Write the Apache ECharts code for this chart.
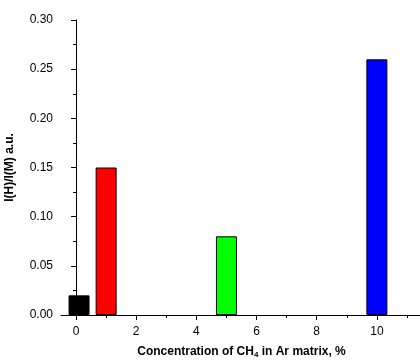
<!DOCTYPE html>
<html lang="en">
<head>
    <meta charset="UTF-8">
    <title>I(H)/I(M) vs CH4 concentration</title>
    <style>
        html, body { margin: 0; padding: 0; background: #fff; }
        #main { width: 420px; height: 360px; }
    </style>
    <script src="https://cdn.jsdelivr.net/npm/echarts@6/dist/echarts.min.js"></script>
</head>
<body>
<div id="main"></div>
<script>
    // concentration of CH4, % (black bar sits slightly right of 0)
    var concentrations = [0.1, 1, 5, 10];
    var ratios = [0.02, 0.15, 0.08, 0.26];
    var barColors = ['#000000', '#ff0000', '#00ff00', '#0000ff'];
    var xMajorTicks = [0, 2, 4, 6, 8, 10];
    var xMinorTicks = [1, 3, 5, 7, 9, 11];

    var font = 'Liberation Sans, Arial, sans-serif';
    var ink = '#000';

    var myChart = echarts.init(document.getElementById('main'));

    var barData = concentrations.map(function (c, i) {
        return {
            value: [c, ratios[i]],
            itemStyle: { color: barColors[i] }
        };
    });

    var option = {
        animation: false,
        grid: { left: 61, top: 20, width: 361, height: 295, outerBoundsMode: 'none' },
        xAxis: [
            {
                type: 'value',
                min: -0.5,
                max: 11.5,
                name: 'Concentration of CH{sub|4} in Ar matrix, %',
                nameLocation: 'middle',
                nameGap: 30,
                nameTextStyle: {
                    fontFamily: font, fontSize: 12, fontWeight: 'bold', color: ink,
                    rich: { sub: { fontFamily: font, fontSize: 8, fontWeight: 'bold', color: ink, verticalAlign: 'bottom', padding: [6, 0, 0, 0] } }
                },
                axisLine: { lineStyle: { color: ink, width: 1 } },
                axisTick: { customValues: xMajorTicks, length: 5, lineStyle: { color: ink } },
                axisLabel: {
                    customValues: xMajorTicks,
                    fontFamily: font, fontSize: 12, color: ink, margin: 11
                },
                splitLine: { show: false }
            },
            {
                type: 'value',
                min: -0.5,
                max: 11.5,
                position: 'bottom',
                axisLine: { show: false },
                axisTick: { customValues: xMinorTicks, length: 3, lineStyle: { color: ink } },
                axisLabel: { show: false },
                splitLine: { show: false }
            }
        ],
        yAxis: {
            type: 'value',
            min: 0,
            max: 0.3,
            interval: 0.05,
            name: 'I(H)/I(M) a.u.',
            nameLocation: 'middle',
            nameGap: 45,
            nameTextStyle: { fontFamily: font, fontSize: 12, fontWeight: 'bold', color: ink },
            axisLine: { show: true, lineStyle: { color: ink, width: 1 } },
            axisTick: { show: true, length: 5, lineStyle: { color: ink } },
            minorTick: { show: true, splitNumber: 2, length: 3, lineStyle: { color: ink } },
            axisLabel: {
                fontFamily: font, fontSize: 12, color: ink, margin: 8,
                formatter: function (v) { return v.toFixed(2); }
            },
            splitLine: { show: false }
        },
        series: [
            {
                type: 'bar',
                barWidth: 21,
                itemStyle: { borderColor: '#000', borderWidth: 1 },
                data: barData
            }
        ]
    };

    option && myChart.setOption(option);
</script>
</body>
</html>
